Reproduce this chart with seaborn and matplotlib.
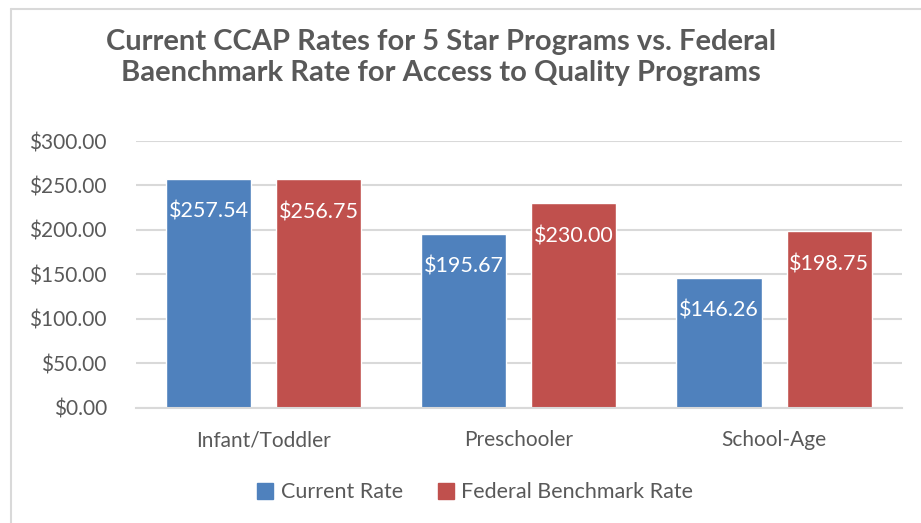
import pandas as pd
import seaborn as sns
import matplotlib.pyplot as plt
from matplotlib.lines import Line2D

# 数据
categories = ['Infant/Toddler', 'Preschooler', 'School-Age']
current_rate = [257.54, 195.67, 146.26]
federal_rate = [256.75, 230.00, 198.75]
series_names = ['Current Rate', 'Federal Benchmark Rate']
colors = ['#4F81BD', '#C0504D']

df = pd.DataFrame({
    'Category': categories * 2,
    'Rate': current_rate + federal_rate,
    'Series': [series_names[0]] * 3 + [series_names[1]] * 3,
})

sns.set_style('white')
plt.rcParams['font.family'] = ['Lato', 'DejaVu Sans']
text_color = '#595959'
grid_color = '#D9D9D9'

fig = plt.figure(figsize=(9.21, 5.23), dpi=100)
ax = fig.add_axes([0.1477, 0.2199, 0.8313, 0.5105])

sns.barplot(data=df, x='Category', y='Rate', hue='Series', order=categories,
            hue_order=series_names, palette=colors, width=0.863, gap=0.227,
            saturation=1, ax=ax, legend=False)

ax.set_ylim(0, 300)
ax.set_yticks(range(0, 301, 50))
ax.set_yticklabels([f'${v:.2f}' for v in range(0, 301, 50)])
ax.yaxis.grid(True, color=grid_color, linewidth=1.5)
ax.set_axisbelow(True)
ax.set_xlabel('')
ax.set_ylabel('')
for s in ['top', 'right', 'left']:
    ax.spines[s].set_visible(False)
ax.spines['bottom'].set_color(grid_color)
ax.spines['bottom'].set_linewidth(1.5)
ax.tick_params(axis='both', length=0, labelsize=15, colors=text_color)
ax.tick_params(axis='x', pad=16)
ax.tick_params(axis='y', pad=21)

for container in ax.containers:
    ax.bar_label(container, labels=[f'${v:.2f}' for v in container.datavalues],
                 label_type='edge', padding=-31, color='white', fontsize=15.5)

fig.text(0.479, 0.890, 'Current CCAP Rates for 5 Star Programs vs. Federal\nBaenchmark Rate for Access to Quality Programs',
         ha='center', va='center', fontsize=21, fontweight='bold', color=text_color,
         linespacing=1.25)

handles = [plt.Rectangle((0, 0), 1, 1, color=c) for c in colors]
fig.legend(handles, series_names, loc='center', bbox_to_anchor=(0.516, 0.059), ncol=2,
           frameon=False, fontsize=15.5, labelcolor=text_color, handlelength=0.75,
           handleheight=0.75, handletextpad=0.35, columnspacing=1.6)

# 图表边框
fig.add_artist(Line2D([11 / 921, 1], [1 - 9 / 523, 1 - 9 / 523], color=grid_color, lw=1.5))
fig.add_artist(Line2D([11 / 921, 11 / 921], [0, 1 - 9 / 523], color=grid_color, lw=1.5))

fig.savefig('out.png', dpi=100)
